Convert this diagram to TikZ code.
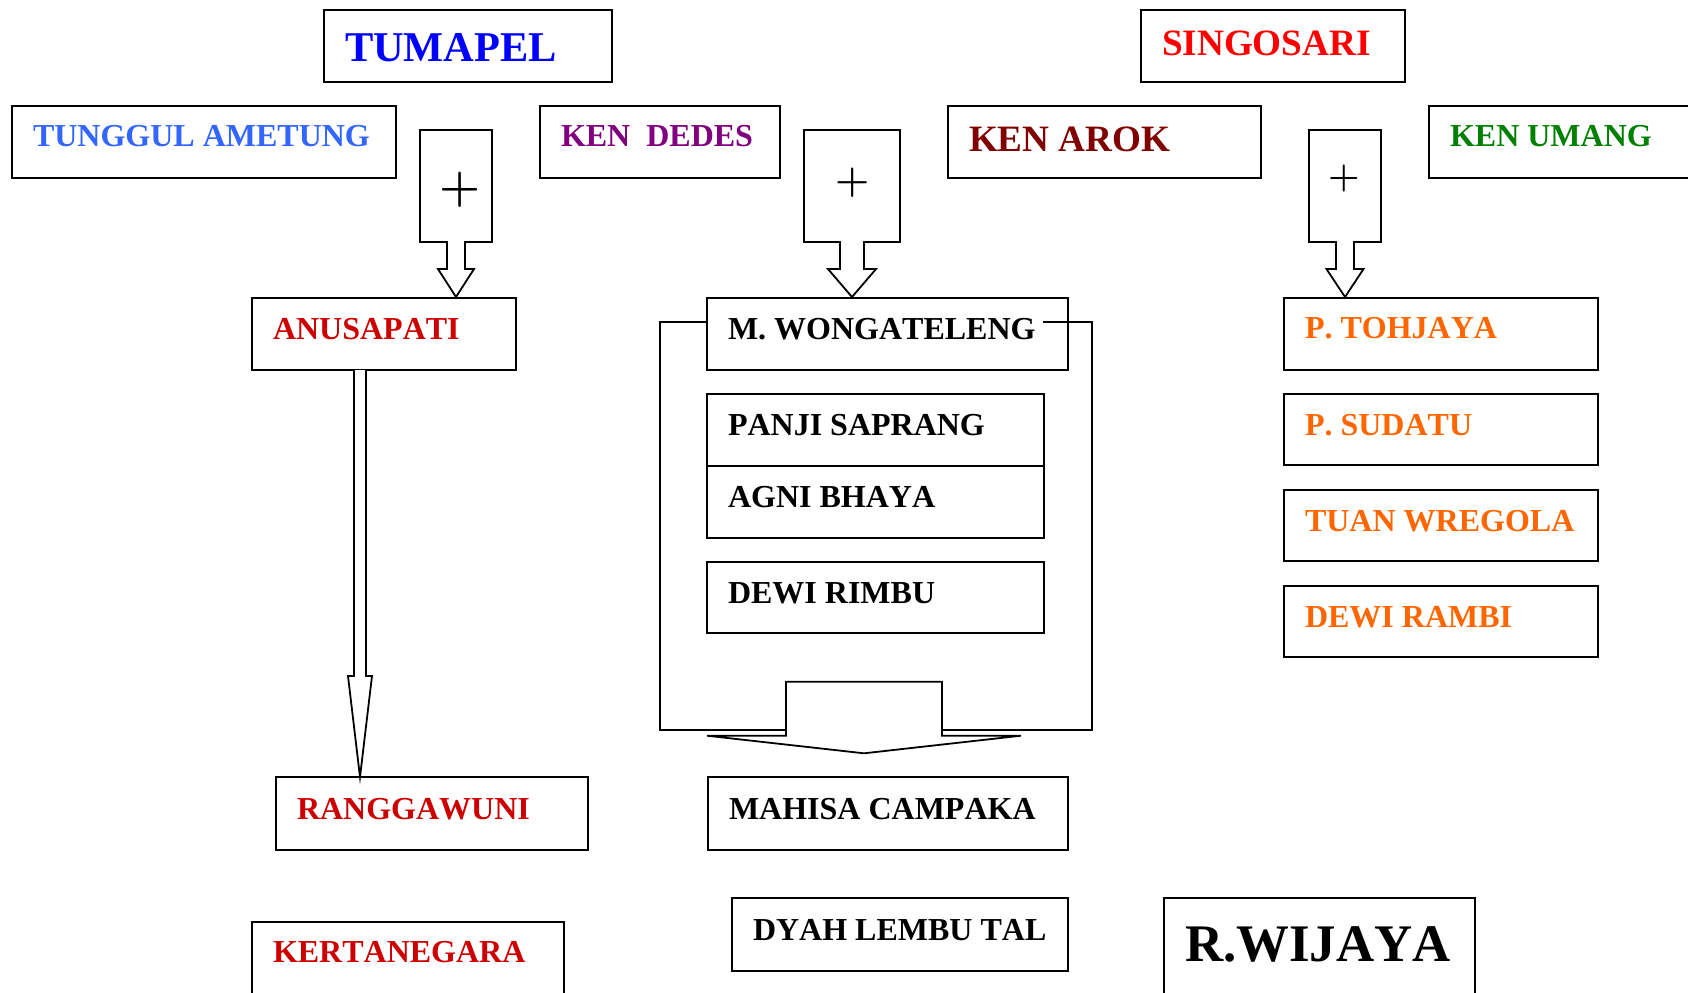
\documentclass[tikz,border=0pt]{standalone}
\usepackage{fontspec}
\setmainfont{Liberation Serif}[Kerning=Off]
\newfontfamily\plusfont{Latin Modern Roman}
\usetikzlibrary{calc}
\definecolor{cblue}{HTML}{0000FF}
\definecolor{cred}{HTML}{FF0000}
\definecolor{clblue}{HTML}{3366FF}
\definecolor{cpurple}{HTML}{800080}
\definecolor{cmaroon}{HTML}{800000}
\definecolor{cgreen}{HTML}{008000}
\definecolor{cdred}{HTML}{CC0000}
\definecolor{corange}{HTML}{FF6600}
\tikzset{
  box/.style={draw, line width=0.85pt, rectangle, inner sep=0pt, outer sep=0pt, anchor=north west},
  lbl/.style={anchor=base west, inner sep=0pt, outer sep=0pt, font=\bfseries\fontsize{16}{19}\selectfont},
  barrow/.style={draw, line width=0.9pt, line join=miter, fill=white},
  plussign/.style={anchor=base, inner sep=0pt, outer sep=0pt}
}
\newcommand\pbox[8]{%
  \node[box, minimum width={(#4-#2)*0.5pt}, minimum height={(#5-#3)*0.5pt}] (#1) at (#2,#3) {};
  \node[lbl, #7] (#1-t) at ($(#1.north west)+(21,#6)$) {#8};
}
\begin{document}
\begin{tikzpicture}[x=0.5pt,y=-0.5pt]
\useasboundingbox (0,0) rectangle (1688,992);
\fill[white] (0,0) rectangle (1688,992);
\clip (0,0) rectangle (1688,992);

% block arrows with plus
\draw[barrow] (420,130) -- (492,130) -- (492,242) -- (465,242) -- (465,269) -- (474,269) -- (456,297) -- (438,269) -- (447,269) -- (447,242) -- (420,242) -- cycle;
\draw[barrow] (804,130) -- (900,130) -- (900,242) -- (864,242) -- (864,269) -- (876,269) -- (852,297) -- (828,269) -- (840,269) -- (840,242) -- (804,242) -- cycle;
\draw[barrow] (1309,130) -- (1381,130) -- (1381,242) -- (1354,242) -- (1354,269) -- (1363.5,269) -- (1345,297) -- (1326.5,269) -- (1336,269) -- (1336,242) -- (1309,242) -- cycle;
\node[plussign, font=\plusfont\bfseries\fontsize{23.5}{23.5}\selectfont] (plus1) at (460.3,201.3) {+};
\node[plussign, font=\plusfont\bfseries\fontsize{19.6}{19.6}\selectfont] (plus2) at (852.7,192.3) {+};
\node[plussign, font=\plusfont\bfseries\fontsize{18}{18}\selectfont] (plus3) at (1344.5,187.3) {+};

% boxes
\pbox{tumapel}{324}{10}{612}{82}{51}{text=cblue, font=\bfseries\fontsize{21.2}{24}\selectfont}{TUMAPEL}
\pbox{singosari}{1141}{10}{1405}{82}{45.7}{text=cred, font=\bfseries\fontsize{18.6}{22}\selectfont}{SINGOSARI}
\pbox{tunggul}{12}{106}{396}{178}{40.7}{text=clblue}{TUNGGUL AMETUNG}
\pbox{dedes}{540}{106}{780}{178}{40.7}{text=cpurple}{KEN~~DEDES}
\pbox{arok}{948}{106}{1261}{178}{45.7}{text=cmaroon, font=\bfseries\fontsize{18.6}{22}\selectfont}{KEN AROK}
\pbox{umang}{1429}{106}{1720}{178}{40.7}{text=cgreen}{KEN UMANG}
\pbox{anusapati}{252}{298}{516}{370}{41}{text=cdred}{ANUSAPATI}
\pbox{wong}{707}{298}{1068}{370}{41}{}{M. WONGATELENG}
\pbox{tohjaya}{1284}{298}{1598}{370}{40.5}{text=corange}{P. TOHJAYA}
\pbox{sudatu}{1284}{394}{1598}{465}{41}{text=corange}{P. SUDATU}
\pbox{wregola}{1284}{490}{1598}{561}{41}{text=corange}{TUAN WREGOLA}
\pbox{rambi}{1284}{586}{1598}{657}{41}{text=corange}{DEWI RAMBI}
\pbox{panji}{707}{394}{1044}{466}{41}{}{PANJI SAPRANG}
\pbox{agni}{707}{466}{1044}{538}{41}{}{AGNI BHAYA}
\pbox{rimbu}{707}{562}{1044}{633}{41}{}{DEWI RIMBU}
\pbox{rangga}{276}{777}{588}{850}{42}{text=cdred}{RANGGAWUNI}
\pbox{mahisa}{708}{777}{1068}{850}{42}{}{MAHISA CAMPAKA}
\pbox{kerta}{252}{922}{564}{1010}{40.6}{text=cdred}{KERTANEGARA}
\pbox{dyah}{732}{898}{1068}{971}{42.3}{}{DYAH LEMBU TAL}
\pbox{wijaya}{1164}{898}{1475}{1010}{63}{font=\bfseries\fontsize{26.4}{30}\selectfont}{R.WIJAYA}

% ANUSAPATI -> RANGGAWUNI block arrow
\draw[barrow] (354,0 |- anusapati.south) -- (354,676) -- (348,676) -- (360,0 |- rangga.north) -- (372,676) -- (366,676) -- (366,0 |- anusapati.south);

% U-shaped bracket arrow round the Wongateleng group
\draw[line width=0.9pt, line join=miter] (wong.west |- 0,322) -- (660,322) -- (660,730) -- (786,730);
\draw[line width=0.9pt, line join=miter] (942,730) -- (1092,730) -- (1092,322) -- (1043,322);
\draw[barrow] (707,735.7) -- (786,735.7) -- (786,681.7) -- (942,681.7) -- (942,735.7) -- (1021,735.7) -- (864,753.3) -- cycle;
\end{tikzpicture}
\end{document}
